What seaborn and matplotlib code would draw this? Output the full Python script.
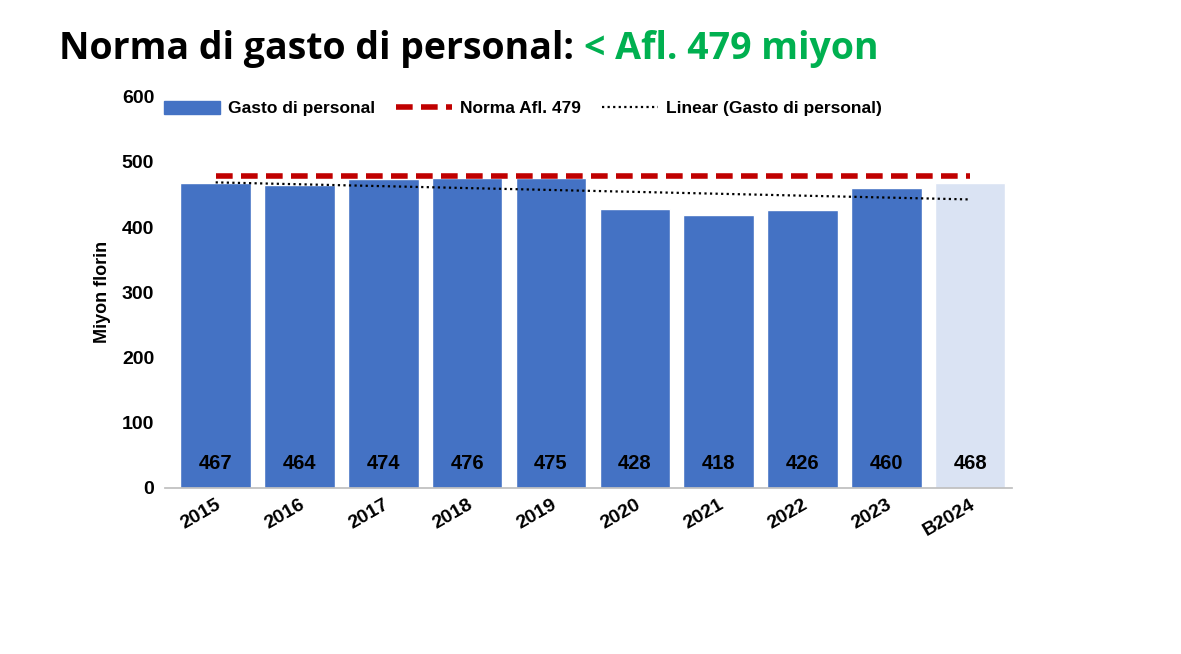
import numpy as np
import pandas as pd
import seaborn as sns
import matplotlib
matplotlib.use("Agg")
import matplotlib.pyplot as plt
from matplotlib.patches import Patch

years = ["2015", "2016", "2017", "2018", "2019", "2020", "2021", "2022", "2023", "B2024"]
gasto = [467, 464, 474, 476, 475, 428, 418, 426, 460, 468]
norma = 479
bar_colors = ["#4472C4"] * 9 + ["#DAE3F3"]

sns.set_theme(style="white")
plt.rcParams['font.family'] = ['Liberation Sans', 'DejaVu Sans']
plt.rcParams['text.color'] = 'black'
plt.rcParams['axes.labelcolor'] = 'black'
plt.rcParams['xtick.color'] = 'black'
plt.rcParams['ytick.color'] = 'black'

fig = plt.figure(figsize=(11.81, 6.54), dpi=100)
ax = fig.add_axes([0.14, 0.254, 0.717, 0.598])

df = pd.DataFrame({"year": years, "val": gasto})
sns.barplot(data=df, x="year", y="val", hue="year", palette=bar_colors,
            legend=False, width=0.84, ax=ax, saturation=1, errorbar=None)

x = np.arange(len(years))
l_norm, = ax.plot([0, len(years) - 1], [norma, norma], color="#C00000", lw=4,
                  dashes=(3, 1.5), zorder=5)
coef = np.polyfit(x, gasto, 1)
l_lin, = ax.plot(x, np.polyval(coef, x), color="black", lw=1.6, ls=(0, (1, 1.5)),
                 zorder=6)

handles = [Patch(color="#4472C4"), l_norm, l_lin]
labels = ["Gasto di personal", "Norma Afl. 479", "Linear (Gasto di personal)"]
ax.legend(handles, labels, loc="upper left", bbox_to_anchor=(-0.02, 1.03), ncol=3,
          frameon=False, prop={"weight": "bold", "size": 12.5},
          handlelength=3.2, handleheight=0.8, columnspacing=1.2, handletextpad=0.5)

for i, v in enumerate(gasto):
    ax.text(i, 37, str(v), ha="center", va="center", fontsize=14.5,
            fontweight="bold", color="black")

ax.set_ylim(0, 600)
ax.set_xlim(-0.6, len(years) - 0.5)
ax.set_yticks(range(0, 601, 100))
ax.set_xlabel("")
ax.set_ylabel("Miyon florin", fontsize=13, fontweight="bold", labelpad=8)
for s in ["top", "right", "left"]:
    ax.spines[s].set_visible(False)
ax.spines["bottom"].set_color("#BFBFBF")
ax.tick_params(axis="y", labelsize=14, pad=8, length=0)
ax.tick_params(axis="x", labelsize=14, length=0, pad=6)
for t in ax.get_yticklabels():
    t.set_fontweight("bold")
for t in ax.get_xticklabels():
    t.set_fontweight("bold")
    t.set_rotation(30)
    t.set_ha("right")
    t.set_rotation_mode("anchor")

t1 = fig.text(0.05, 0.925, "Norma di gasto di personal: ", fontsize=27,
              fontweight="bold", family=["Open Sans", "DejaVu Sans"], va="center",
              color="black")
fig.canvas.draw()
bb = t1.get_window_extent().transformed(fig.transFigure.inverted())
fig.text(bb.x1, 0.925, "< Afl. 479 miyon", fontsize=27, fontweight="bold",
         family=["Open Sans", "DejaVu Sans"], color="#00B050", va="center")

fig.savefig("out.png", dpi=100)
